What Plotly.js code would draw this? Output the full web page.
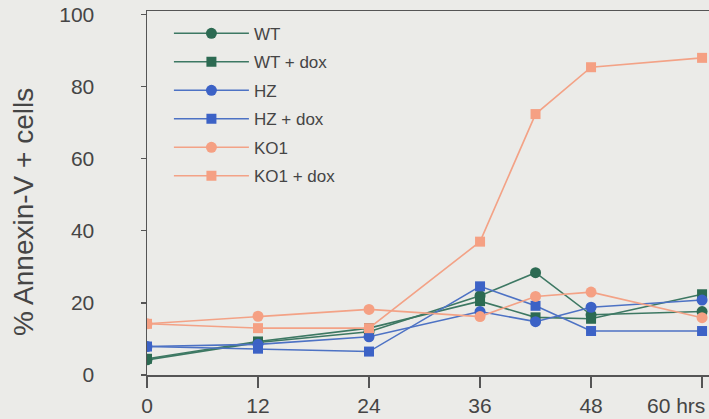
<!DOCTYPE html>
<html>
<head>
<meta charset="utf-8">
<script src="https://cdn.plot.ly/plotly-3.0.1.min.js"></script>
<style>html,body{margin:0;padding:0;background:#ebebe8;}#chart{width:709px;height:419px;}</style>
</head>
<body>
<div id="chart"></div>
<script>
// Time points (hours)
const hours = [0, 12, 24, 36, 42, 48, 60];
const xTickVals = [0, 12, 24, 36, 48, 60];
const xTickText = ['0', '12', '24', '36', '48', '60 hrs'];
const yTickVals = [0, 20, 40, 60, 80, 100];
const yTitle = '% Annexin-V + cells';

// % Annexin-V + cells
const wt       = [4.2, 9.0, 12.0, 22.0, 28.4, 16.7, 17.6];
const wtDox    = [4.5, 9.3, 13.0, 20.5, 16.0, 15.6, 22.4];
const hz       = [7.9, 8.5, 10.6, 17.6, 14.8, 18.8, 20.8];
const hzDox    = [7.9, 7.3, 6.5, 24.6, 19.2, 12.2, 12.2];
const ko1      = [14.2, 16.3, 18.2, 16.2, 21.8, 23.0, 15.9];
const ko1Dox   = [14.2, 13.0, 13.0, 37.0, 72.4, 85.4, 88.0];

const seriesNames = ['WT', 'WT + dox', 'HZ', 'HZ + dox', 'KO1', 'KO1 + dox'];
const seriesData = [wt, wtDox, hz, hzDox, ko1, ko1Dox];
const lineColors = ['#3d7863', '#3d7863', '#4d72c4', '#4d72c4', '#f3a286', '#f3a286'];
const markerColors = ['#2c6a52', '#2c6a52', '#3c62c6', '#3c62c6', '#f5a083', '#f5a083'];
const symbols = ['circle', 'square', 'circle', 'square', 'circle', 'square'];

const traces = seriesData.map((ys, i) => ({
  x: hours,
  y: ys,
  name: seriesNames[i],
  legendgroup: 'g' + i,
  type: 'scatter',
  mode: 'lines+markers',
  line: {color: lineColors[i], width: 1.6},
  marker: {color: markerColors[i], symbol: symbols[i], size: symbols[i] === 'circle' ? 11 : 10}
}));

// last tick label is drawn left-aligned so it stays inside the page
const lastIdx = xTickText.length - 1;
const shownTickText = xTickText.map((t, i) => i === lastIdx ? '' : t);

const layout = {
  width: 709,
  height: 419,
  margin: {l: 147, r: 0, t: 11, b: 44},
  paper_bgcolor: '#ebebe8',
  plot_bgcolor: '#ebebe8',
  font: {family: 'Liberation Sans, Arial, sans-serif', color: '#454545'},
  showlegend: true,
  legend: {
    x: 0.039, y: 0.987, xanchor: 'left', yanchor: 'top',
    bgcolor: 'rgba(0,0,0,0)',
    font: {size: 17, color: '#454545'},
    itemwidth: 75,
    tracegroupgap: 3.4
  },
  xaxis: {
    range: [0, 60.75],
    tickvals: xTickVals,
    ticktext: shownTickText,
    ticks: 'outside', ticklen: 11, tickwidth: 1.3, tickcolor: '#555',
    showline: true, linecolor: '#555', linewidth: 1.5, mirror: true,
    showgrid: false, zeroline: false,
    tickfont: {size: 21, color: '#454545'}
  },
  yaxis: {
    range: [0, 101],
    tickvals: yTickVals,
    ticks: 'outside', ticklen: 5, tickwidth: 1.3, tickcolor: '#555',
    ticklabelstandoff: 42,
    showline: true, linecolor: '#555', linewidth: 1.5,
    showgrid: false, zeroline: false,
    tickfont: {size: 21, color: '#454545'}
  },
  annotations: [
    {
      text: yTitle, textangle: -90, showarrow: false,
      xref: 'paper', yref: 'paper', x: -0.2206, y: 0.4478,
      xanchor: 'center', yanchor: 'middle',
      font: {size: 28, color: '#454545'}
    },
    {
      text: xTickText[lastIdx], showarrow: false,
      xref: 'x', yref: 'paper', x: xTickVals[lastIdx], y: -0.083, xshift: -57,
      xanchor: 'left', yanchor: 'middle',
      font: {size: 21, color: '#454545'}
    }
  ]
};

Plotly.newPlot('chart', traces, layout, {displayModeBar: false, staticPlot: true});
</script>
</body>
</html>
